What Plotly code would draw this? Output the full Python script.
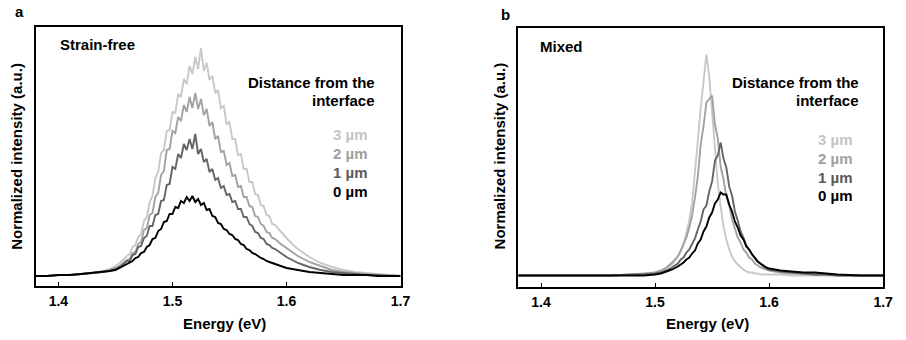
import plotly.graph_objects as go

W, H = 906, 340

# ---------------- Panel a: Strain-free ----------------
energy_a = [1.38, 1.39, 1.40, 1.41, 1.42, 1.43, 1.44, 1.445, 1.45, 1.455,
            1.46, 1.4625, 1.465, 1.4675, 1.47, 1.4725, 1.475, 1.4775, 1.48, 1.4825,
            1.485, 1.4875, 1.49, 1.4925, 1.495, 1.4975, 1.50, 1.5025, 1.505, 1.5075,
            1.51, 1.5125, 1.515, 1.5175, 1.52, 1.5225, 1.525, 1.5275, 1.53, 1.5325,
            1.535, 1.5375, 1.54, 1.5425, 1.545, 1.5475, 1.55, 1.5525, 1.555, 1.5575,
            1.56, 1.5625, 1.565, 1.5675, 1.57, 1.5725, 1.575, 1.5775, 1.58, 1.5825,
            1.585, 1.5875, 1.59,
            1.595, 1.60, 1.605, 1.61, 1.615, 1.62, 1.63, 1.64, 1.65, 1.66, 1.67, 1.68, 1.69, 1.70]

a_3um = [1, 1, 2, 2, 3, 4, 6, 8, 11, 15,
         21, 23, 30, 32, 40, 43, 56, 60, 75, 81,
         99, 105, 124, 127, 146, 147, 165, 164, 183, 180,
         198, 193, 211, 203, 220, 208, 229, 206, 214, 197,
         201, 184, 187, 169, 171, 153, 155, 138, 138, 122,
         123, 108, 108, 95, 95, 83, 82, 72, 71, 62,
         61, 53, 52,
         45, 39, 33, 28, 24, 20, 14, 10, 7, 5, 4, 3, 2, 1]

a_2um = [1, 1, 2, 2, 3, 4, 5, 7, 9, 12,
         17, 18, 24, 25, 33, 35, 47, 49, 62, 64,
         80, 84, 102, 106, 127, 128, 146, 144, 160, 156,
         172, 165, 180, 169, 184, 168, 178, 162, 168, 151,
         155, 138, 141, 125, 126, 112, 114, 101, 102, 90,
         91, 80, 80, 71, 70, 61, 60, 53, 51, 45,
         44, 39, 38,
         33, 29, 25, 21, 18, 15, 11, 7, 5, 4, 3, 2, 2, 1]

a_1um = [1, 1, 2, 2, 3, 4, 5, 6, 8, 11,
         16, 16, 22, 23, 30, 31, 39, 41, 51, 51,
         62, 63, 76, 77, 92, 93, 110, 108, 123, 119,
         133, 127, 138, 128, 143, 123, 128, 115, 118, 105,
         108, 97, 99, 89, 91, 82, 83, 75, 76, 68,
         68, 60, 60, 53, 51, 45, 44, 39, 38, 33,
         32, 29, 28,
         24, 20, 17, 14, 12, 10, 7, 5, 4, 3, 2, 2, 1, 1]

a_0um = [1, 1, 2, 2, 3, 4, 5, 6, 7, 10,
         13, 15, 16, 19, 20, 24, 25, 30, 32, 38,
         39, 46, 48, 55, 56, 63, 63, 70, 69, 76,
         74, 80, 76, 81, 75, 78, 72, 74, 67, 68,
         61, 60, 54, 53, 48, 47, 43, 42, 38, 37,
         33, 32, 28, 27, 24, 23, 21, 19, 18, 16,
         15, 14, 13,
         11, 9, 8, 7, 6, 5, 4, 3, 2, 2, 2, 1, 1, 1]

# ---------------- Panel b: Mixed ----------------
energy_b = [1.38, 1.40, 1.42, 1.44, 1.46, 1.48, 1.49, 1.50, 1.505, 1.51, 1.515,
            1.52, 1.5225, 1.525, 1.5275, 1.53, 1.5325, 1.535, 1.5375, 1.54, 1.5425,
            1.545, 1.5475, 1.55, 1.5525, 1.555, 1.5575, 1.56, 1.5625, 1.565, 1.5675,
            1.57, 1.5725, 1.575, 1.5775, 1.58, 1.5825, 1.585, 1.5875, 1.59, 1.5925,
            1.595, 1.5975, 1.60,
            1.605, 1.61, 1.62, 1.63, 1.64, 1.65, 1.66, 1.68, 1.70]

b_3um = [1, 1, 1, 1, 1, 2, 2, 4, 5, 8, 12,
         20, 25, 32, 44, 56, 74, 102, 136, 168, 196,
         222, 200, 162, 124, 93, 70, 50, 37, 27, 20,
         15, 12, 9, 7, 5, 4, 4, 3, 3, 2,
         2, 2, 2,
         2, 2, 1, 1, 1, 1, 1, 1, 1]

b_2um = [1, 1, 1, 1, 1, 2, 3, 4, 6, 9, 14,
         20, 26, 32, 39, 49, 61, 79, 100, 132, 150,
         174, 178, 181, 152, 138, 110, 97, 80, 71, 57,
         49, 39, 34, 27, 24, 19, 17, 13, 11, 9,
         8, 7, 6,
         5, 4, 3, 3, 2, 2, 1, 1, 1]

b_1um = [1, 1, 1, 1, 1, 2, 2, 3, 4, 6, 9,
         13, 17, 19, 24, 27, 33, 38, 47, 55, 67,
         71, 85, 95, 116, 121, 134, 118, 109, 90, 81,
         65, 56, 45, 39, 31, 27, 22, 18, 15, 12,
         10, 8, 7,
         6, 5, 4, 3, 2, 2, 1, 1, 1]

b_0um = [1, 1, 1, 1, 1, 1, 1, 2, 3, 5, 7,
         10, 12, 14, 17, 19, 23, 26, 33, 37, 45,
         50, 59, 64, 73, 77, 84, 82, 82, 72, 65,
         55, 49, 41, 37, 30, 27, 22, 19, 15, 13,
         11, 9, 8,
         7, 6, 5, 4, 4, 3, 2, 1, 1]

series_names = ["3 µm", "2 µm", "1 µm", "0 µm"]
line_colors = ["#c8c8c8", "#a2a2a2", "#656565", "#000000"]
label_colors = ["#c4c4c4", "#a0a0a0", "#5a5a5a", "#000000"]
ticks = [1.4, 1.5, 1.6, 1.7]
tick_text = ["1.4", "1.5", "1.6", "1.7"]

FONT = "Liberation Sans, Arial, sans-serif"

fig = go.Figure()

panel_a = [a_3um, a_2um, a_1um, a_0um]
panel_b = [b_3um, b_2um, b_1um, b_0um]

for vals, name, col in zip(panel_a, series_names, line_colors):
    fig.add_trace(go.Scatter(x=energy_a, y=vals, mode="lines", name=name,
                             line=dict(color=col, width=1.9), xaxis="x", yaxis="y",
                             showlegend=False))
for vals, name, col in zip(panel_b, series_names, line_colors):
    fig.add_trace(go.Scatter(x=energy_b, y=vals, mode="lines", name=name,
                             line=dict(color=col, width=1.9), xaxis="x2", yaxis="y2",
                             showlegend=False))

def px(x):
    return x / W

def py(y):
    return 1 - y / H

xcommon = dict(range=[1.38, 1.70], tickvals=ticks, ticktext=tick_text,
               ticks="inside", ticklen=4, tickwidth=1, tickcolor="black",
               showline=True, linecolor="black", linewidth=1.5, mirror=True,
               showgrid=False, zeroline=False,
               tickfont=dict(family=FONT, size=14, color="black", weight="bold"),
               ticklabelstandoff=1)
ycommon = dict(showline=True, linecolor="black", linewidth=1.5, mirror=True,
               showgrid=False, zeroline=False, showticklabels=False, ticks="")

fig.update_layout(
    width=W, height=H,
    margin=dict(l=0, r=0, t=0, b=0),
    paper_bgcolor="white", plot_bgcolor="white",
    xaxis=dict(domain=[px(36), px(405)], anchor="y", **xcommon),
    yaxis=dict(domain=[py(286), py(27)], anchor="x", range=[-9, 250], **ycommon),
    xaxis2=dict(domain=[px(524), px(893)], anchor="y2", **xcommon),
    yaxis2=dict(domain=[py(287), py(28)], anchor="x2", range=[-10.5, 248.5], **ycommon),
    showlegend=False,
)

ann = []
def text(x, y, s, size=15, color="black", xanchor="center", angle=0):
    ann.append(dict(x=px(x), y=py(y), xref="paper", yref="paper", text=s,
                    showarrow=False, xanchor=xanchor, yanchor="middle",
                    textangle=angle,
                    font=dict(family=FONT, size=size, color=color, weight="bold")))

# panel letters
text(20, 12, "a", xanchor="center")
text(511, 15, "b", xanchor="center")
# axis titles
text(17, 156, "Normalized intensity (a.u.)", angle=-90)
text(506, 156, "Normalized intensity (a.u.)", angle=-90)
text(227, 323, "Energy (eV)")
text(715, 323, "Energy (eV)")
# panel titles
text(59, 45, "Strain-free", xanchor="left")
text(544, 47, "Mixed", xanchor="left")
# legend headings
text(381, 82, "Distance from the", xanchor="right")
text(381, 100, "interface", xanchor="right")
text(871, 82, "Distance from the", xanchor="right")
text(871, 100, "interface", xanchor="right")
# legend entries
ya = [135, 154, 172, 191]
yb = [139, 158, 177, 196]
for name, col, y1, y2 in zip(series_names, label_colors, ya, yb):
    text(374, y1, name, color=col, xanchor="right")
    text(865, y2, name, color=col, xanchor="right")

fig.update_layout(annotations=ann)

fig.write_html("out.html")
